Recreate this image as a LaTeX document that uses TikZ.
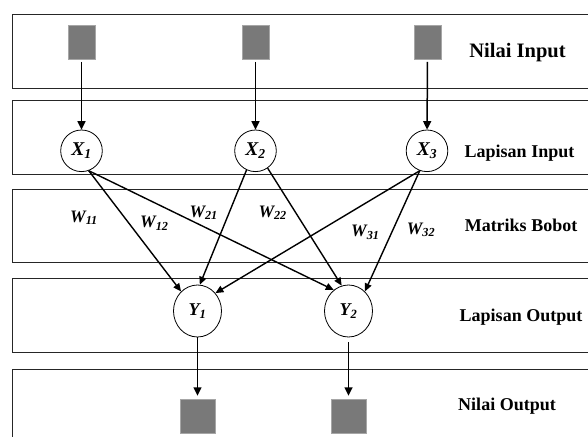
\documentclass[tikz,border=0pt]{standalone}
\usepackage{fontspec}
\setmainfont{Liberation Serif}
\usepackage{tikz}
\usetikzlibrary{shapes,arrows.meta,positioning}

\begin{document}
\begin{tikzpicture}[
    x=1pt, y=-1pt,
    band/.style={rectangle, draw=black!85, line width=0.9pt, fill=white, anchor=north west, minimum width=600pt, inner sep=0pt, outer sep=0pt},
    inbox/.style={rectangle, draw=gray!70, fill=gray!95!black, minimum width=27.4pt, minimum height=34pt, inner sep=0pt},
    outbox/.style={inbox, minimum width=35pt},
    xnode/.style={circle, draw, thick, fill=white, minimum size=41.6pt, inner sep=0pt, font=\fontsize{19.5}{21}\selectfont\bfseries\itshape},
    ynode/.style={ellipse, draw, thick, fill=white, minimum width=48pt, minimum height=52pt, inner sep=0pt, font=\fontsize{18}{20}\selectfont\bfseries\itshape},
    lbl/.style={anchor=base, font=\fontsize{18}{20}\selectfont\bfseries},
    wlbl/.style={anchor=base west, inner sep=0pt, font=\fontsize{17.5}{20}\selectfont\bfseries\itshape},
    arr/.style={-{Triangle[length=8.5pt,width=8pt]}, line width=1.5pt},
    wt/.style={-{Triangle[length=8pt,width=7pt]}, line width=1.4pt}
]
\clip (0,0) rectangle (588,436);
\fill[white] (0,0) rectangle (588,436);

% Layer bands
\node[band, minimum height=74pt] (b1) at (12,14.3) {};
\node[band, minimum height=74pt] (b2) at (12,100) {};
\node[band, minimum height=73pt] (b3) at (12,189) {};
\node[band, minimum height=73.7pt] (b4) at (12,278.3) {};
\node[band, minimum height=80pt] (b5) at (12,369) {};

% Band labels
\node[lbl, font=\fontsize{20.5}{22}\selectfont\bfseries] (tni) at (517.5,57.3) {Nilai Input};
\node[lbl] (tli) at (519.5,157) {Lapisan Input};
\node[lbl] (tmb) at (521,231) {Matriks Bobot};
\node[lbl] (tlo) at (521,321) {Lapisan Output};
\node[lbl] (tno) at (507,410.7) {Nilai Output};

% Input values
\node[inbox] (i1) at (81.5,42.3) {};
\node[inbox] (i2) at (255.5,42.3) {};
\node[inbox] (i3) at (427.5,42.3) {};

% Input layer
\node[xnode] (x1) at (81.5,150.8) {X\textsubscript{1}};
\node[xnode] (x2) at (255.5,150.8) {X\textsubscript{2}};
\node[xnode] (x3) at (427,150.8) {X\textsubscript{3}};

% Output layer
\node[ynode] (y1) at (197.5,311) {Y\textsubscript{1}};
\node[ynode] (y2) at (348.5,311) {Y\textsubscript{2}};

% Output values
\node[outbox] (o1) at (197.5,416) {};
\node[outbox] (o2) at (348.5,416) {};

% Inputs into the input layer
\draw[arr, shorten <=2.4pt] (i1) -- (x1);
\draw[arr, shorten <=2.4pt] (i2) -- (x2);
\draw[arr, shorten <=2.4pt] (i3) -- (x3);

% Weighted connections
\draw[wt] (x1.-70) -- (y1.130);
\draw[wt] (x1.-70) -- (y2.125);
\draw[wt] (x2.-115) -- (y1.85);
\draw[wt] (x2.-55) -- (y2.105);
\draw[wt] (x3.-110) -- (y1.45);
\draw[wt] (x3.-110) -- (y2.50);

% Weight labels
\node[wlbl] (w11) at (70,222.3) {W\textsubscript{11}};
\node[wlbl] (w12) at (140,227.7) {W\textsubscript{12}};
\node[wlbl] (w21) at (189.3,217.3) {W\textsubscript{21}};
\node[wlbl] (w22) at (258.3,217.3) {W\textsubscript{22}};
\node[wlbl] (w31) at (351,236.7) {W\textsubscript{31}};
\node[wlbl] (w32) at (406.7,234.3) {W\textsubscript{32}};

% Outputs
\draw[arr, shorten >=3pt] (y1) -- (o1);
\draw[arr, shorten <=5pt, shorten >=3pt] (y2) -- (o2);

\end{tikzpicture}
\end{document}
